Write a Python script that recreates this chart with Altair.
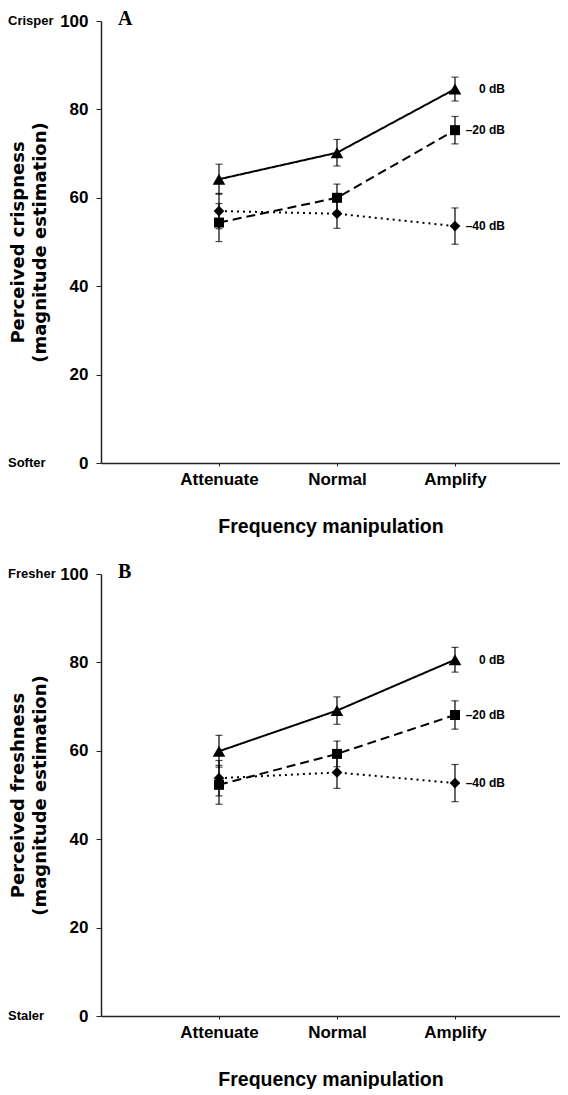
import altair as alt
import pandas as pd

categories = ["Attenuate", "Normal", "Amplify"]
levels = ["0 dB", "\u201320 dB", "\u201340 dB"]

# Panel A: perceived crispness
crisp_0 = [64.2, 70.2, 84.6]
crisp_0_err = [3.4, 3.0, 2.7]
crisp_20 = [54.4, 60.0, 75.3]
crisp_20_err = [4.3, 3.1, 3.1]
crisp_40 = [57.0, 56.4, 53.6]
crisp_40_err = [4.0, 3.3, 4.1]

# Panel B: perceived freshness
fresh_0 = [59.9, 69.1, 80.6]
fresh_0_err = [3.6, 3.1, 2.8]
fresh_20 = [52.3, 59.3, 68.1]
fresh_20_err = [4.4, 2.9, 3.2]
fresh_40 = [53.8, 55.1, 52.7]
fresh_40_err = [4.0, 3.6, 4.2]

y_ticks = [0, 20, 40, 60, 80, 100]

NARROW = "'Liberation Sans', Arial, sans-serif"
WIDE = "'DejaVu Sans', Verdana, sans-serif"
SERIF = "'Liberation Serif', 'Times New Roman', serif"

label_expr = "[''," + ",".join("'" + c + "'" for c in categories) + "][datum.value]"


def panel(letter, series, errs, top_word, bottom_word, title_lines):
    rows = []
    for li, lev in enumerate(levels):
        for ci, cat in enumerate(categories):
            v = series[li][ci]
            e = errs[li][ci]
            rows.append(dict(level=lev, pos=ci + 1, cat=cat, value=v, lo=v - e, hi=v + e))
    df = pd.DataFrame(rows)
    base = alt.Chart(df)

    x = alt.X(
        "pos:Q",
        scale=alt.Scale(domain=[0, 3.89], nice=False, zero=False),
        axis=alt.Axis(
            values=[1, 2, 3],
            labelExpr=label_expr,
            title="Frequency manipulation",
            grid=False,
            domainColor="#222",
            domainWidth=1.5,
            tickColor="#222",
            tickSize=3,
            labelFont=NARROW,
            labelFontSize=17,
            labelFontWeight="bold",
            labelColor="black",
            labelPadding=5,
            titleFont=NARROW,
            titleFontSize=19.5,
            titleFontWeight="bold",
            titleColor="black",
            titlePadding=30,
        ),
    )
    y = alt.Y(
        "value:Q",
        scale=alt.Scale(domain=[0, 100], nice=False),
        axis=alt.Axis(
            values=y_ticks,
            title=title_lines,
            grid=False,
            domainColor="#222",
            domainWidth=1.5,
            tickColor="#222",
            tickSize=5,
            labelFont=NARROW,
            labelFontSize=17,
            labelFontWeight="bold",
            labelColor="black",
            labelPadding=8,
            titleFont=WIDE,
            titleFontSize=18,
            titleFontWeight="bold",
            titleColor="black",
            titleLineHeight=22,
            titlePadding=10,
        ),
    )

    dash = alt.StrokeDash(
        "level:N",
        scale=alt.Scale(domain=levels, range=[[1, 0], [9, 5], [2, 4]]),
        legend=None,
    )
    lines = base.mark_line(color="black", strokeWidth=2).encode(x=x, y=y, strokeDash=dash, detail="level:N")
    bars = base.mark_rule(color="black", strokeWidth=1.2).encode(x="pos:Q", y="lo:Q", y2="hi:Q")
    cap_lo = base.mark_tick(orient="horizontal", color="black", size=7, thickness=1.2).encode(x="pos:Q", y="lo:Q")
    cap_hi = base.mark_tick(orient="horizontal", color="black", size=7, thickness=1.2).encode(x="pos:Q", y="hi:Q")

    shapes = ["triangle-up", "square", "diamond"]
    sizes = [160, 100, 115]
    pts = []
    for lev, shp, sz in zip(levels, shapes, sizes):
        pts.append(
            base.transform_filter(alt.datum.level == lev)
            .mark_point(filled=True, color="black", opacity=1, shape=shp, size=sz)
            .encode(x="pos:Q", y="value:Q")
        )

    labels = (
        base.transform_filter(alt.datum.pos == 3)
        .mark_text(align="right", baseline="middle", dx=50, font=NARROW, fontSize=12, fontWeight="bold", color="black")
        .encode(x="pos:Q", y="value:Q", text="level:N")
    )

    words = (
        alt.Chart(pd.DataFrame({"word": [top_word, bottom_word], "value": [100, 0]}))
        .mark_text(align="left", baseline="middle", font=NARROW, fontSize=13, fontWeight="bold", color="black")
        .encode(x=alt.value(-93), y="value:Q", text="word:N")
    )

    tag = (
        alt.Chart(pd.DataFrame({"t": [letter]}))
        .mark_text(align="left", baseline="middle", font=SERIF, fontSize=20, fontWeight="bold", color="black")
        .encode(x=alt.value(17), y=alt.value(-2), text="t:N")
    )

    return alt.layer(lines, bars, cap_lo, cap_hi, *pts, labels, words, tag).properties(width=459, height=442)


pA = panel(
    "A",
    [crisp_0, crisp_20, crisp_40],
    [crisp_0_err, crisp_20_err, crisp_40_err],
    "Crisper",
    "Softer",
    ["Perceived crispness", "(magnitude estimation)"],
)
pB = panel(
    "B",
    [fresh_0, fresh_20, fresh_40],
    [fresh_0_err, fresh_20_err, fresh_40_err],
    "Fresher",
    "Staler",
    ["Perceived freshness", "(magnitude estimation)"],
)

chart = (
    alt.vconcat(pA, pB, spacing=26)
    .properties(padding={"left": 0, "top": 1, "right": 0, "bottom": 0}, background="white")
    .configure_view(stroke=None)
)

chart.save("out.html", embed_options={"renderer": "svg", "actions": False})
